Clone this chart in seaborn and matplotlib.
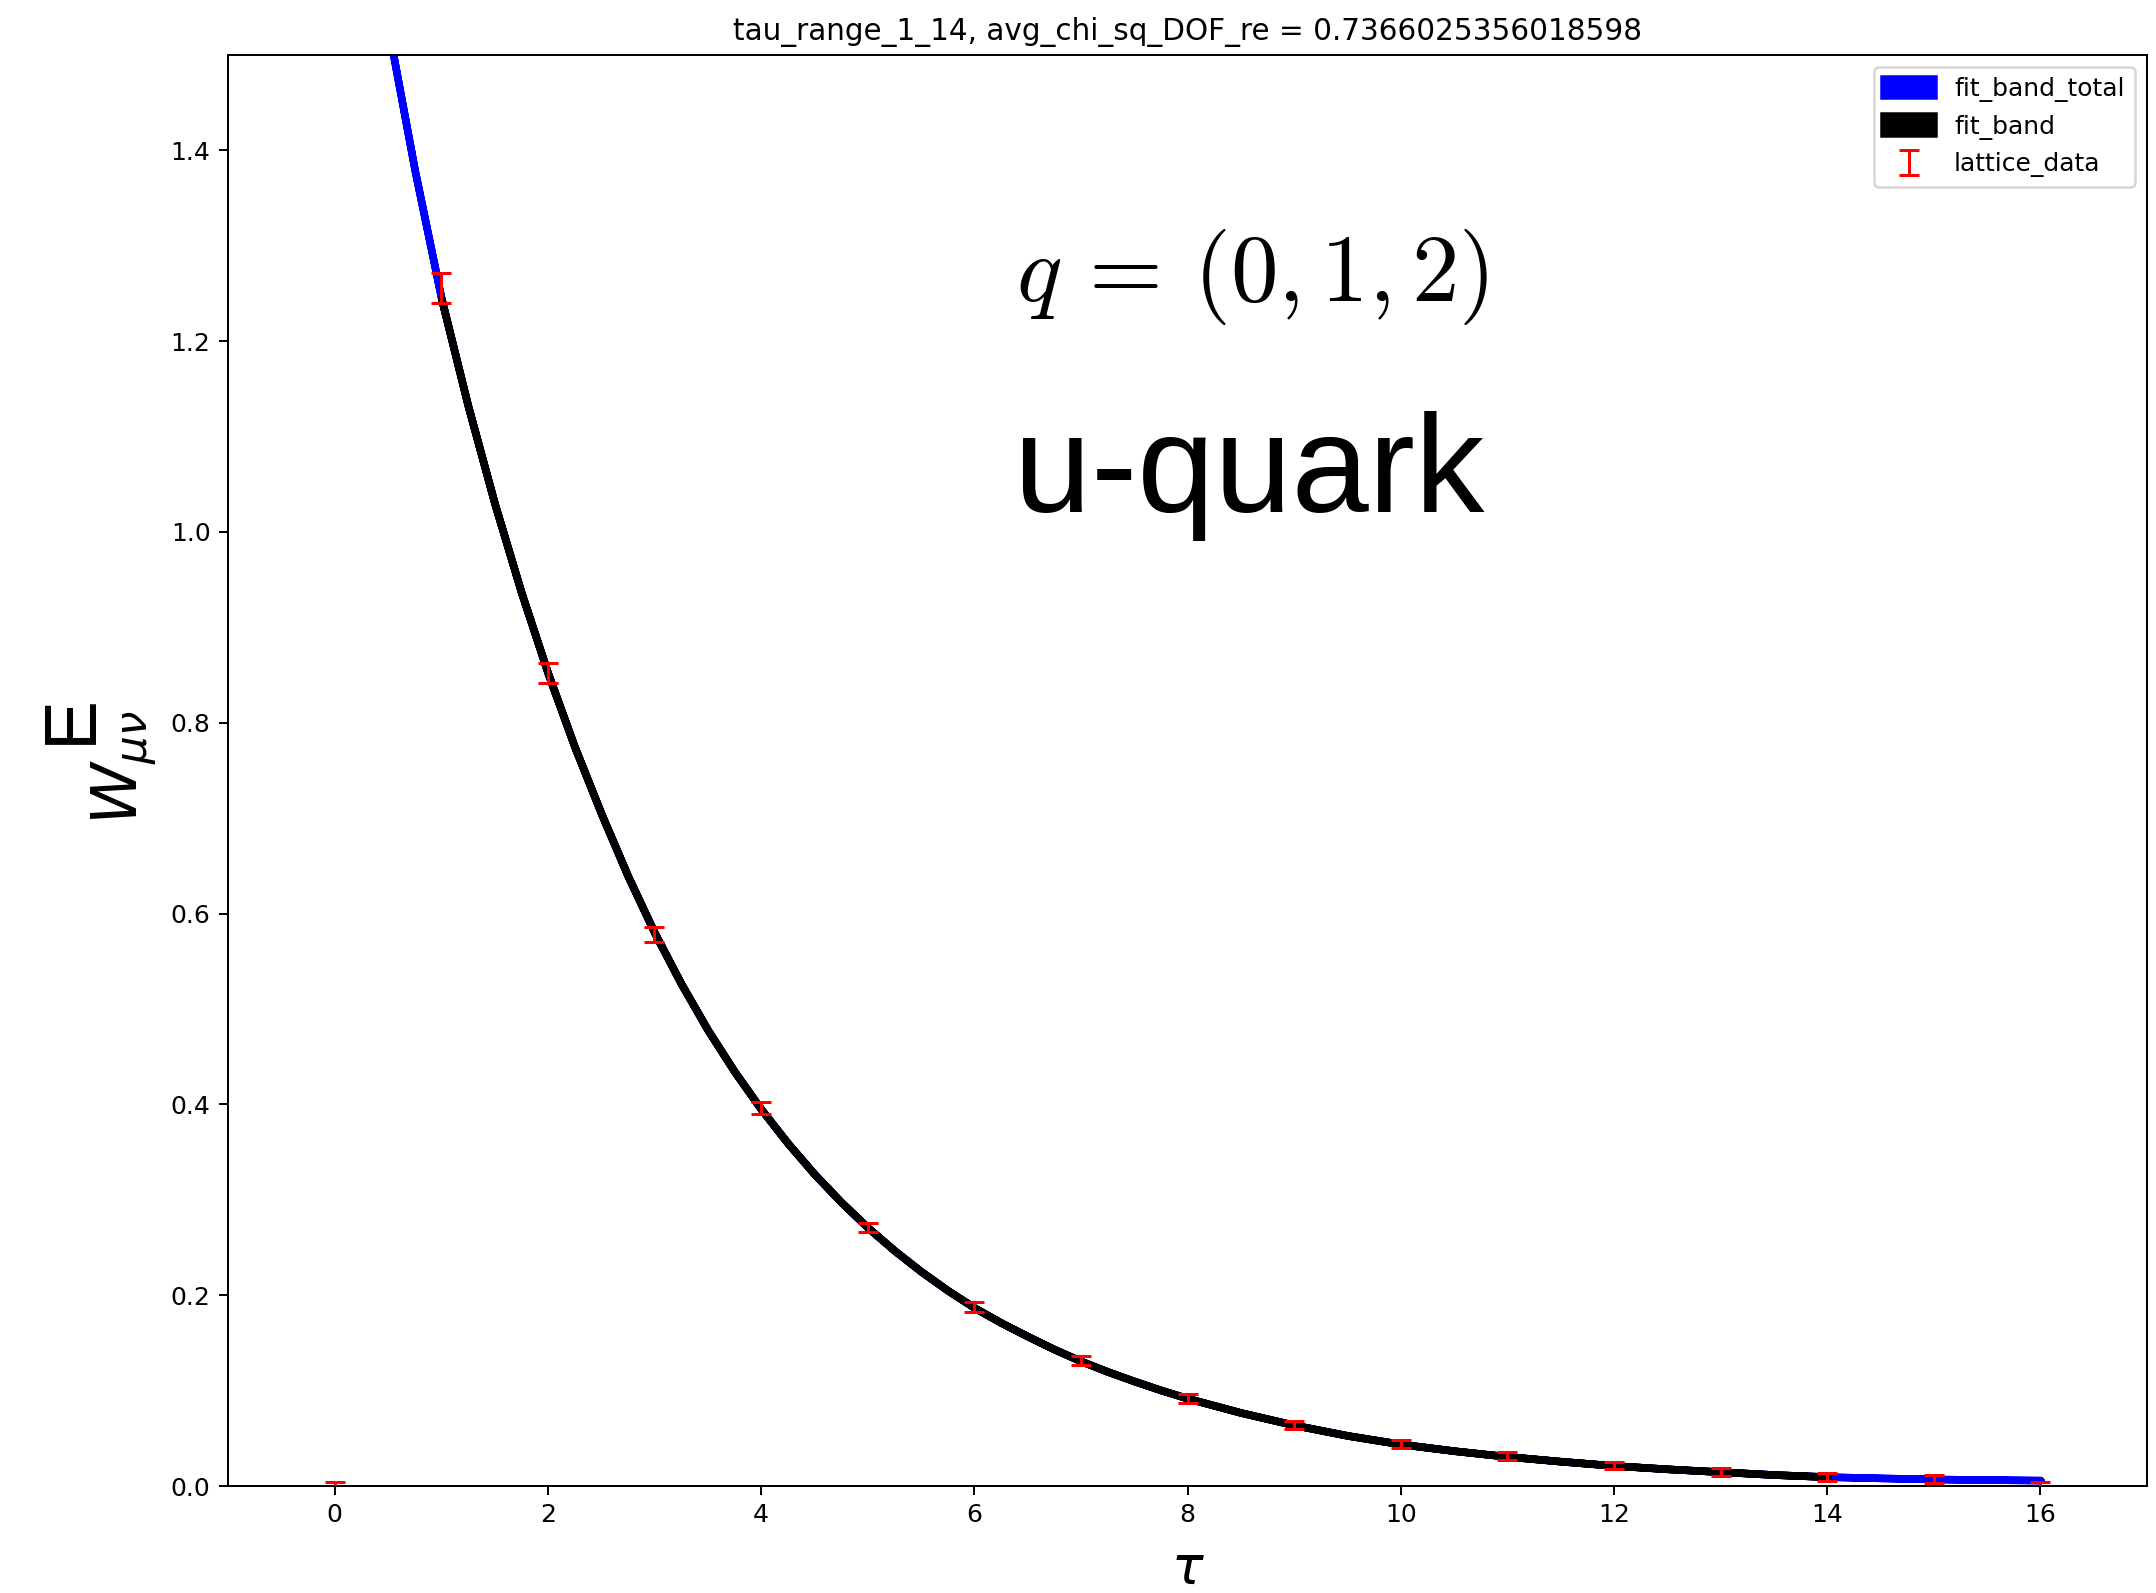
import numpy as np
import matplotlib
matplotlib.use("Agg")
import matplotlib.pyplot as plt
import seaborn as sns

# Lattice correlator W_{mu nu}^E versus Euclidean time tau
tau_data = list(range(17))
w_data = [0.0, 1.256, 0.852, 0.578, 0.396, 0.271, 0.1875, 0.1315, 0.092,
          0.064, 0.044, 0.0315, 0.0215, 0.0147, 0.0095, 0.0073, 0.0]
w_err = [0.004, 0.016, 0.0105, 0.008, 0.006, 0.005, 0.005, 0.0047, 0.0045,
         0.0043, 0.004, 0.004, 0.004, 0.004, 0.004, 0.004, 0.004]

# Fitted curve (central value) sampled along tau
tau_fit = [0.5, 0.75, 1.0, 1.25, 1.5, 1.75, 2.0, 2.25, 2.5, 2.75, 3.0,
           3.25, 3.5, 3.75, 4.0, 4.25, 4.5, 4.75, 5.0, 5.25, 5.5, 5.75,
           6.0, 6.25, 6.5, 6.75, 7.0, 7.25, 7.5, 7.75, 8.0, 8.5, 9.0, 9.5,
           10.0, 10.5, 11.0, 11.5, 12.0, 12.5, 13.0, 13.5, 14.0, 14.5,
           15.0, 15.5, 16.0]
w_fit = [1.53, 1.38, 1.245, 1.1325, 1.03, 0.9368, 0.852, 0.775, 0.705,
         0.6395, 0.580, 0.5265, 0.478, 0.4345, 0.395, 0.3594, 0.327,
         0.2977, 0.271, 0.2469, 0.225, 0.2051, 0.187, 0.1713, 0.157,
         0.1434, 0.131, 0.1200, 0.110, 0.1006, 0.092, 0.077, 0.064, 0.053,
         0.044, 0.037, 0.031, 0.026, 0.0215, 0.018, 0.015, 0.012, 0.0098,
         0.0085, 0.0074, 0.0067, 0.0062]
fit_range = (1, 14)

title_text = "tau_range_1_14, avg_chi_sq_DOF_re = 0.7366025356018598"
momentum_text = r"$q\,=\,(0,1,2)$"
flavour_text = "u-quark"

sns.set_style("ticks", rc={
    "axes.edgecolor": "black",
    "axes.labelcolor": "black",
    "text.color": "black",
    "xtick.color": "black",
    "ytick.color": "black",
    "axes.linewidth": 0.8,
})
plt.rcParams["font.family"] = ["DejaVu Sans"]
plt.rcParams["mathtext.fontset"] = "dejavusans"
plt.rcParams["xtick.labelsize"] = 10
plt.rcParams["ytick.labelsize"] = 10
plt.rcParams["xtick.major.size"] = 3.5
plt.rcParams["ytick.major.size"] = 3.5
plt.rcParams["xtick.major.width"] = 0.8
plt.rcParams["ytick.major.width"] = 0.8

W, H, DPI = 2156, 1593, 180
fig = plt.figure(figsize=(W / DPI, H / DPI), dpi=DPI)
ax = fig.add_axes([228 / W, 1 - 1486 / H, 1919 / W, 1431 / H])

tf = np.asarray(tau_fit)
wf = np.asarray(w_fit)
ax.fill_between(tf, wf, wf, facecolor="blue", edgecolor="blue",
                linewidth=3.0, label="fit_band_total", zorder=2,
                joinstyle="round")
sel = (tf >= fit_range[0]) & (tf <= fit_range[1])
ax.fill_between(tf[sel], wf[sel], wf[sel], facecolor="black",
                edgecolor="black", linewidth=3.0, label="fit_band", zorder=2,
                joinstyle="round")
ax.errorbar(tau_data, w_data, yerr=w_err, fmt="none", ecolor="red",
            elinewidth=1.2, capsize=4, capthick=1.2, label="lattice_data",
            zorder=3)

ax.set_xlim(-1, 17)
ax.set_ylim(0, 1.5)
ax.set_xticks(np.arange(0, 17, 2))
ax.set_yticks(np.arange(0, 1.41, 0.2))
ax.yaxis.set_major_formatter(matplotlib.ticker.FormatStrFormatter("%.1f"))

ax.set_title(title_text, fontsize=11.8)
ax.set_xlabel(r"$\tau$", fontsize=21)
ax.xaxis.set_label_coords(0.5, -0.040)
ax.set_ylabel(r"$W_{\mu\nu}$", fontsize=25)
ax.yaxis.set_label_coords(-0.036, 0.502)
fig.text(71 / W, 1 - 719 / H, "E", rotation=90, ha="center", va="center",
         fontsize=30, family="Liberation Sans")

leg = ax.legend(loc="upper right", fontsize=10)

fig.text(1016 / W, 1 - 301 / H, momentum_text, fontsize=38,
         math_fontfamily="cm", ha="left", va="baseline")
fig.text(1014 / W, 1 - 512 / H, flavour_text, fontsize=55.5,
         family="Liberation Sans", ha="left", va="baseline")

fig.savefig("out.png", dpi=DPI)
